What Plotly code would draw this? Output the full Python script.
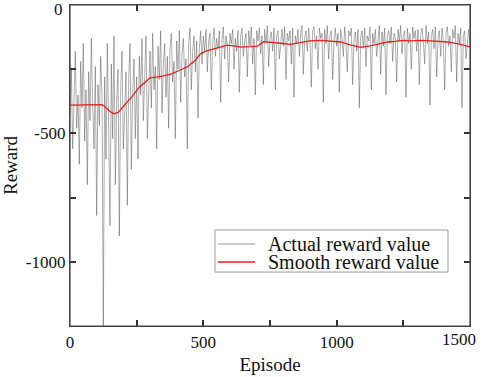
import plotly.graph_objects as go

# Actual reward, sampled every 5 episodes (0..1500)
actual_0_120 = [-420, -250, -560, -300, -180, -480, -350, -620, -220, -400,
                -150, -530, -330, -700, -260, -450, -130, -380, -560, -240,
                -820, -310, -470, -200]
actual_120_250 = [-350, -1250, -280, -600, -150, -480, -860, -230, -520, -120,
                  -700, -380, -250, -900, -330, -180, -560, -420, -260, -780,
                  -300, -150, -640, -350, -210, -520]
actual_250_500 = [-280, -600, -200, -350, -130, -450, -260, -120, -520, -300,
                  -180, -400, -110, -330, -240, -560, -160, -290, -100, -420,
                  -230, -150, -360, -200, -480, -170, -110, -300, -220, -520,
                  -140, -250, -100, -380, -190, -130, -280, -210, -560, -150,
                  -90, -330, -180, -120, -260, -140, -440, -170, -100, -230]
actual_500_1000 = [-120, -180, -95, -260, -140, -110, -330, -150, -90, -200,
                   -130, -170, -100, -380, -140, -85, -210, -120, -160, -300,
                   -110, -150, -95, -250, -130, -180, -100, -340, -120, -90,
                   -200, -140, -110, -280, -100, -160, -85, -230, -130, -350,
                   -100, -140, -90, -190, -120, -310, -95, -150, -80, -240,
                   -130, -105, -180, -90, -330, -120, -100, -210, -140, -95,
                   -160, -85, -290, -110, -140, -100, -230, -90, -360, -120,
                   -150, -95, -200, -110, -80, -270, -130, -100, -180, -90,
                   -140, -320, -100, -85, -170, -120, -250, -90, -130, -110,
                   -380, -95, -150, -80, -210, -120, -100, -290, -140, -90]
actual_1000_1500 = [-160, -110, -340, -95, -130, -200, -85, -150, -260, -100,
                    -120, -90, -310, -140, -105, -180, -95, -400, -130, -100,
                    -170, -90, -240, -120, -140, -85, -330, -110, -150, -95,
                    -200, -130, -80, -270, -105, -160, -90, -350, -120, -100,
                    -150, -85, -220, -110, -130, -300, -95, -140, -80, -190,
                    -120, -100, -360, -90, -150, -110, -250, -85, -130, -100,
                    -180, -95, -310, -120, -90, -140, -230, -80, -150, -105,
                    -390, -120, -95, -170, -85, -280, -130, -100, -200, -90,
                    -140, -330, -110, -85, -160, -120, -260, -95, -130, -80,
                    -300, -110, -150, -90, -400, -120, -100, -210, -140, -95,
                    -150]
actual_values = actual_0_120 + actual_120_250 + actual_250_500 + actual_500_1000 + actual_1000_1500
actual_episodes = list(range(0, 5 * len(actual_values), 5))

smooth_episodes = [0, 50, 100, 120, 130, 150, 165, 180, 200, 230, 260, 290, 300, 330,
                   376, 410, 440, 470, 489, 510, 538, 560, 590, 620, 639, 680, 703,
                   726, 760, 800, 827, 870, 900, 940, 980, 1015, 1050, 1090, 1130,
                   1160, 1192, 1220, 1252, 1280, 1316, 1350, 1390, 1417, 1460, 1500]
smooth_values = [-390, -390, -390, -388, -395, -415, -424, -418, -395, -360, -320, -290,
                 -284, -280, -270, -255, -241, -215, -190, -180, -171, -163, -156,
                 -160, -164, -162, -160, -143, -145, -150, -153, -145, -140, -138,
                 -140, -144, -155, -165, -158, -150, -144, -142, -138, -140, -138,
                 -140, -142, -144, -152, -163]

series_names = ["Actual reward value", "Smooth reward value"]
x_tickvals = [0, 250, 500, 750, 1000, 1250, 1500]
x_ticktext = ["0", "", "500", "", "1000", "", ""]
y_tickvals = [0, -250, -500, -750, -1000]
y_ticktext = ["", "", "-500", "", "-1000"]
# edge tick labels that sit inside the figure edge in the reference
y_top_label = "0"
x_end_label = "1500"

FONT = "Times New Roman, Liberation Serif, serif"
FRAME = "#444"
GRAY = "rgba(70,70,70,0.55)"
RED = "rgb(235,30,30)"

fig = go.Figure()
fig.add_trace(go.Scatter(x=actual_episodes, y=actual_values, mode="lines",
                         name=series_names[0], showlegend=False,
                         line=dict(color=GRAY, width=0.8)))
fig.add_trace(go.Scatter(x=smooth_episodes, y=smooth_values, mode="lines",
                         name=series_names[1], showlegend=False,
                         line=dict(color=RED, width=1.3)))

axis_common = dict(showline=True, mirror="allticks", linecolor=FRAME, linewidth=1.2,
                   ticks="inside", ticklen=6, tickcolor="#333", tickwidth=1.5,
                   showgrid=False, zeroline=False, automargin=False,
                   ticklabeloverflow="allow",
                   tickfont=dict(family=FONT, size=17, color="#111"))

# legend box drawn as layout shapes + annotations (paper coordinates)
leg_x0, leg_x1, leg_y0, leg_y1 = 0.3625, 0.945, 0.168, 0.299
row_y = [0.2555, 0.1994]
sample_x0, sample_x1, text_x = 0.37, 0.4625, 0.49
legend_colors = [GRAY, RED]
legend_widths = [1.2, 1.5]

shapes = [dict(type="rect", xref="paper", yref="paper", x0=0, y0=0, x1=1, y1=1,
               line=dict(color=FRAME, width=1.2), fillcolor="rgba(0,0,0,0)", layer="above"),
          dict(type="rect", xref="paper", yref="paper", x0=leg_x0, y0=leg_y0, x1=leg_x1, y1=leg_y1,
               line=dict(color="#999", width=1), fillcolor="white", layer="above")]
annotations = []
for name, col, w, ry in zip(series_names, legend_colors, legend_widths, row_y):
    shapes.append(dict(type="line", xref="paper", yref="paper", x0=sample_x0, x1=sample_x1,
                       y0=ry, y1=ry, line=dict(color=col, width=w), layer="above"))
    annotations.append(dict(text=name, xref="paper", yref="paper", x=text_x, y=ry,
                            xanchor="left", yanchor="middle", showarrow=False,
                            font=dict(family=FONT, size=20, color="#111")))

annotations.append(dict(text=y_top_label, xref="paper", yref="paper", x=0, y=1,
                        xanchor="right", yanchor="middle", xshift=-5, yshift=-4,
                        showarrow=False, font=dict(family=FONT, size=17, color="#111")))
annotations.append(dict(text=x_end_label, xref="paper", yref="paper", x=1, y=0,
                        xanchor="right", yanchor="top", xshift=8, yshift=-2,
                        showarrow=False, font=dict(family=FONT, size=17, color="#111")))

fig.update_layout(
    width=484, height=377,
    margin=dict(l=70, r=14, t=5, b=51),
    plot_bgcolor="white", paper_bgcolor="white",
    font=dict(family=FONT, color="#111"),
    showlegend=False,
    xaxis=dict(range=[0, 1500], tickmode="array", tickvals=x_tickvals, ticktext=x_ticktext,
               title=dict(text="Episode", font=dict(family=FONT, size=19), standoff=7),
               **axis_common),
    yaxis=dict(range=[-1250, 0], tickmode="array", tickvals=y_tickvals, ticktext=y_ticktext,
               title=dict(text="Reward", font=dict(family=FONT, size=19), standoff=6),
               **axis_common),
    shapes=shapes,
    annotations=annotations,
)

fig.write_html("out.html", config={"displayModeBar": False},
               post_script="document.body.style.margin='0';")
